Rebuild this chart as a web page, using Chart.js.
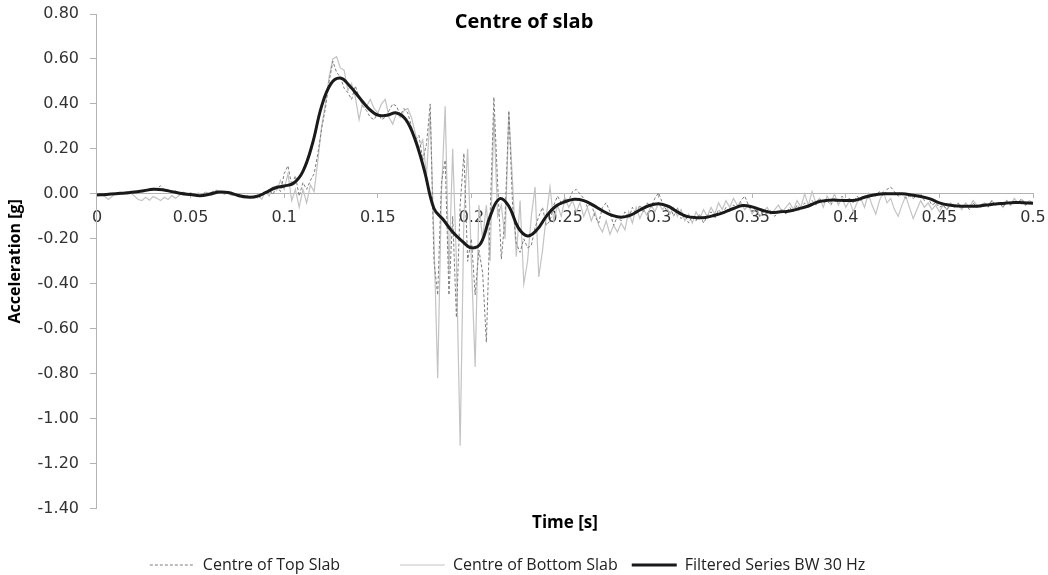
<!DOCTYPE html>
<html>
<head>
<meta charset="utf-8">
<script src="https://cdn.jsdelivr.net/npm/chart.js@4.4.1/dist/chart.umd.min.js"></script>
<style>
  html, body { margin: 0; padding: 0; background: #fff; }
  #wrap { width: 1048px; height: 575px; position: relative; }
</style>
</head>
<body>
<div id="wrap"><canvas id="accChart"></canvas></div>
<script>
// Sampling of the two measured records and of the filtered record [s]
const timeStep = 0.002;
const filterStep = 0.005;

// Centre of Top Slab [g], one value every 2 ms from 0 to 0.5 s
const topSlab = [
  0.000, -0.004, -0.002, 0.002, -0.003, 0.003, 0.006, 0.002, 0.008, 0.004,
  0.010, 0.007, 0.015, 0.012, 0.020, 0.016, 0.024, 0.036, 0.014, 0.018,
  0.008, 0.012, 0.002, 0.006, -0.004, 0.002, -0.006, -0.012, -0.004, 0.006,
  -0.002, 0.010, 0.016, 0.006, 0.012, 0.002, 0.008, -0.006, -0.002, -0.014,
  -0.008, -0.018, -0.010, -0.020, -0.006, 0.004, 0.018, -0.004, 0.040, 0.010,
  0.090, 0.125, 0.040, 0.080, -0.010, 0.050, 0.020, 0.060, 0.090, 0.180,
  0.290, 0.380, 0.500, 0.590, 0.540, 0.520, 0.470, 0.450, 0.420, 0.480,
  0.430, 0.390, 0.370, 0.340, 0.330, 0.360, 0.330, 0.340, 0.370, 0.400,
  0.390, 0.350, 0.380, 0.360, 0.300, 0.240, 0.260, 0.150, 0.220, 0.400,
  -0.300, -0.450, 0.050, 0.150, -0.450, -0.100, -0.550, -0.050, 0.180, -0.300,
  -0.200, -0.450, -0.250, -0.350, -0.660, -0.100, 0.430, 0.050, -0.290, -0.100,
  0.370, -0.050, -0.220, -0.260, -0.200, -0.240, -0.230, -0.150, -0.100, -0.060,
  -0.140, -0.120, -0.050, -0.010, -0.040, -0.020, -0.030, 0.010, 0.020, 0.000,
  -0.020, -0.060, -0.040, -0.100, -0.130, -0.060, -0.040, -0.080, -0.140, -0.100,
  -0.120, -0.080, -0.110, -0.060, -0.090, -0.050, -0.080, -0.040, -0.060, -0.020,
  0.005, -0.040, -0.070, -0.050, -0.100, -0.060, -0.110, -0.090, -0.130, -0.100,
  -0.120, -0.090, -0.130, -0.100, -0.080, -0.110, -0.070, -0.090, -0.060, -0.080,
  -0.050, -0.060, -0.030, -0.010, -0.050, -0.080, -0.060, -0.100, -0.080, -0.090,
  -0.070, -0.100, -0.080, -0.070, -0.090, -0.060, -0.080, -0.050, -0.070, -0.040,
  -0.060, -0.030, -0.050, -0.020, -0.040, -0.030, -0.050, -0.020, -0.040, -0.010,
  -0.030, -0.020, -0.040, -0.010, -0.030, -0.010, -0.020, 0.000, -0.010, 0.010,
  -0.010, 0.020, 0.030, 0.010, -0.010, 0.000, -0.020, -0.010, -0.020, -0.010,
  0.000, -0.030, -0.020, -0.050, -0.040, -0.060, -0.050, -0.070, -0.050, -0.060,
  -0.040, -0.060, -0.050, -0.070, -0.040, -0.060, -0.050, -0.040, -0.060, -0.030,
  -0.050, -0.040, -0.060, -0.030, -0.050, -0.030, -0.040, -0.020, -0.050, -0.040,
  -0.030
];

// Centre of Bottom Slab [g], same sampling
const bottomSlab = [
  -0.005, 0.000, -0.010, -0.025, -0.012, 0.002, 0.008, 0.002, 0.010, 0.005,
  -0.010, -0.025, -0.030, -0.015, -0.028, -0.012, -0.020, -0.030, -0.015, -0.025,
  -0.008, -0.020, -0.006, 0.008, -0.004, 0.006, -0.006, 0.004, -0.004, 0.008,
  0.002, 0.012, 0.004, 0.010, -0.002, 0.004, -0.008, -0.004, -0.014, -0.008,
  -0.016, -0.010, -0.020, -0.008, -0.024, 0.010, -0.010, 0.030, 0.015, 0.060,
  0.020, 0.090, -0.030, 0.020, -0.060, 0.020, -0.040, 0.040, 0.010, 0.150,
  0.300, 0.400, 0.520, 0.600, 0.610, 0.560, 0.550, 0.460, 0.490, 0.430,
  0.330, 0.410, 0.390, 0.420, 0.380, 0.360, 0.400, 0.420, 0.340, 0.310,
  0.360, 0.340, 0.370, 0.380, 0.340, 0.270, 0.200, 0.240, 0.080, 0.360,
  -0.200, -0.820, 0.000, 0.390, -0.350, 0.200, -0.300, -1.120, -0.100, 0.200,
  -0.300, -0.770, -0.050, -0.200, -0.050, -0.300, 0.350, -0.100, -0.050, -0.200,
  0.360, 0.050, -0.280, -0.030, -0.400, -0.300, -0.100, 0.030, -0.370, -0.250,
  -0.100, 0.030, -0.120, -0.050, -0.100, -0.020, -0.060, -0.030, -0.080, -0.040,
  -0.100, -0.060, -0.120, -0.080, -0.140, -0.170, -0.120, -0.180, -0.140, -0.170,
  -0.130, -0.160, -0.080, -0.130, -0.060, -0.110, -0.070, -0.100, -0.050, -0.080,
  -0.040, -0.070, -0.050, -0.090, -0.060, -0.100, -0.070, -0.120, -0.090, -0.130,
  -0.080, -0.110, -0.070, -0.100, -0.060, -0.090, -0.040, -0.070, -0.030, -0.060,
  -0.020, -0.050, -0.040, -0.070, -0.050, -0.090, -0.060, -0.100, -0.080, -0.060,
  -0.090, -0.070, -0.050, -0.080, -0.060, -0.040, -0.070, -0.030, -0.060, 0.000,
  -0.050, 0.010, -0.040, -0.020, -0.060, -0.010, -0.040, 0.000, -0.050, -0.020,
  -0.060, -0.030, -0.080, -0.040, -0.020, -0.060, 0.000, -0.050, -0.090, -0.030,
  0.010, -0.040, -0.020, -0.070, -0.100, -0.050, -0.010, -0.060, -0.110, -0.070,
  -0.030, -0.060, -0.040, -0.070, -0.050, -0.080, -0.050, -0.070, -0.040, -0.060,
  -0.050, -0.070, -0.040, -0.060, -0.030, -0.050, -0.060, -0.040, -0.050, -0.030,
  -0.050, -0.040, -0.060, -0.030, -0.050, -0.020, -0.040, -0.030, -0.050, -0.030,
  -0.040
];

// Filtered Series BW 30 Hz [g], one value every 5 ms
const filteredSeries = [
  -0.005, -0.003, 0.000, 0.004, 0.008, 0.014, 0.020, 0.018, 0.010, 0.002,
  -0.003, -0.008, -0.002, 0.008, 0.006, -0.006, -0.014, -0.012, 0.005, 0.026,
  0.035, 0.047, 0.100, 0.220, 0.390, 0.490, 0.515, 0.480, 0.430, 0.380,
  0.350, 0.350, 0.360, 0.330, 0.240, 0.100, -0.065, -0.115, -0.170, -0.210,
  -0.240, -0.220, -0.100, -0.022, -0.055, -0.150, -0.187, -0.160, -0.100, -0.055,
  -0.035, -0.024, -0.030, -0.050, -0.075, -0.095, -0.104, -0.095, -0.072, -0.052,
  -0.044, -0.055, -0.080, -0.100, -0.106, -0.105, -0.095, -0.082, -0.065, -0.052,
  -0.058, -0.072, -0.083, -0.080, -0.076, -0.066, -0.054, -0.036, -0.029, -0.028,
  -0.030, -0.028, -0.015, -0.005, 0.000, 0.001, 0.000, -0.005, -0.012, -0.022,
  -0.040, -0.050, -0.054, -0.055, -0.055, -0.050, -0.045, -0.042, -0.038, -0.040,
  -0.042
];

// Axis ticks
const timeTicks = [0, 0.05, 0.1, 0.15, 0.2, 0.25, 0.3, 0.35, 0.4, 0.45, 0.5];
const accelTicks = [0.8, 0.6, 0.4, 0.2, 0, -0.2, -0.4, -0.6, -0.8, -1.0, -1.2, -1.4];

const chartTitle = 'Centre of slab';
const seriesNames = ['Centre of Top Slab', 'Centre of Bottom Slab', 'Filtered Series BW 30 Hz'];

// extra blank room after each legend entry (Excel spaces the entries unevenly)
const legendTrail = ['           ', '', '     '];

const toPoints = (values, step) => values.map((v, i) => ({ x: +(i * step).toFixed(3), y: v }));

// Title sits inside the plot area, so it is drawn by hand
const titlePlugin = {
  id: 'slabTitle',
  afterDraw(chart) {
    const ctx = chart.ctx;
    ctx.save();
    ctx.font = 'bold 20px "Open Sans"';
    ctx.fillStyle = '#000';
    ctx.textAlign = 'center';
    ctx.textBaseline = 'middle';
    ctx.fillText(chartTitle, chart.width / 2, 22);
    ctx.restore();
  }
};

// keep the tick label padding from pushing the plot area inwards
const noEdgePadding = axis => {
  axis.paddingTop = 0;
  axis.paddingBottom = 0;
  axis.paddingLeft = 0;
  axis.paddingRight = 0;
};

const ctx = document.getElementById('accChart').getContext('2d');

new Chart(ctx, {
  type: 'line',
  data: {
    datasets: [
      {
        label: seriesNames[0],
        data: toPoints(topSlab, timeStep),
        borderColor: '#7d7d7d',
        borderWidth: 1,
        borderDash: [3, 2],
        pointRadius: 0,
        order: 1
      },
      {
        label: seriesNames[1],
        data: toPoints(bottomSlab, timeStep),
        borderColor: '#c3c3c3',
        borderWidth: 1.2,
        pointRadius: 0,
        order: 2
      },
      {
        label: seriesNames[2],
        data: toPoints(filteredSeries, filterStep),
        borderColor: '#1a1a1a',
        borderWidth: 3,
        tension: 0.4,
        pointRadius: 0,
        order: 0
      }
    ]
  },
  options: {
    responsive: true,
    maintainAspectRatio: false,
    animation: false,
    layout: { padding: { left: 3, right: 15, top: 14, bottom: -8 } },
    scales: {
      x: {
        type: 'linear',
        min: 0,
        max: 0.5,
        position: { y: 0 },
        afterBuildTicks: axis => { axis.ticks = timeTicks.map(v => ({ value: v })); },
        afterFit: noEdgePadding,
        ticks: {
          callback: v => String(+v.toFixed(2)),
          font: { family: 'DejaVu Sans', size: 16 },
          color: '#333',
          padding: 10,
          maxRotation: 0,
          autoSkip: false
        },
        grid: { drawOnChartArea: false, tickLength: 4, color: '#b4b4b4' },
        border: { color: '#b4b4b4' }
      },
      y: {
        min: -1.4,
        max: 0.8,
        afterBuildTicks: axis => { axis.ticks = accelTicks.map(v => ({ value: v })); },
        afterFit: noEdgePadding,
        ticks: {
          callback: v => v.toFixed(2),
          font: { family: 'DejaVu Sans', size: 16 },
          color: '#333',
          padding: 11
        },
        grid: { drawOnChartArea: false, tickLength: 7, color: '#b4b4b4' },
        border: { color: '#b4b4b4' },
        title: {
          display: true,
          text: 'Acceleration [g]',
          font: { family: 'Open Sans', size: 16, weight: 'bold' },
          color: '#000',
          padding: { top: 3, bottom: 1.4 }
        }
      }
    },
    plugins: {
      subtitle: {
        display: true,
        text: 'Time [s]',
        position: 'bottom',
        fullSize: false,
        weight: 500,
        font: { family: 'Open Sans', size: 17, weight: 'bold' },
        color: '#000',
        padding: { top: 4, bottom: 10 }
      },
      legend: {
        position: 'bottom',
        labels: {
          usePointStyle: true,
          pointStyle: 'line',
          pointStyleWidth: 45,
          boxHeight: 10,
          padding: 14,
          font: { family: 'Open Sans', size: 16 },
          color: '#222',
          sort: (a, b) => a.datasetIndex - b.datasetIndex,
          generateLabels: chart => {
            const items = Chart.defaults.plugins.legend.labels.generateLabels(chart);
            items.forEach(item => {
              const ds = chart.data.datasets[item.datasetIndex];
              item.text += legendTrail[item.datasetIndex];
              item.lineDash = ds.borderDash || [];
              item.lineWidth = ds.borderWidth;
              item.strokeStyle = ds.borderColor;
            });
            return items;
          }
        }
      },
      tooltip: { enabled: false }
    }
  },
  plugins: [titlePlugin]
});
</script>
</body>
</html>
